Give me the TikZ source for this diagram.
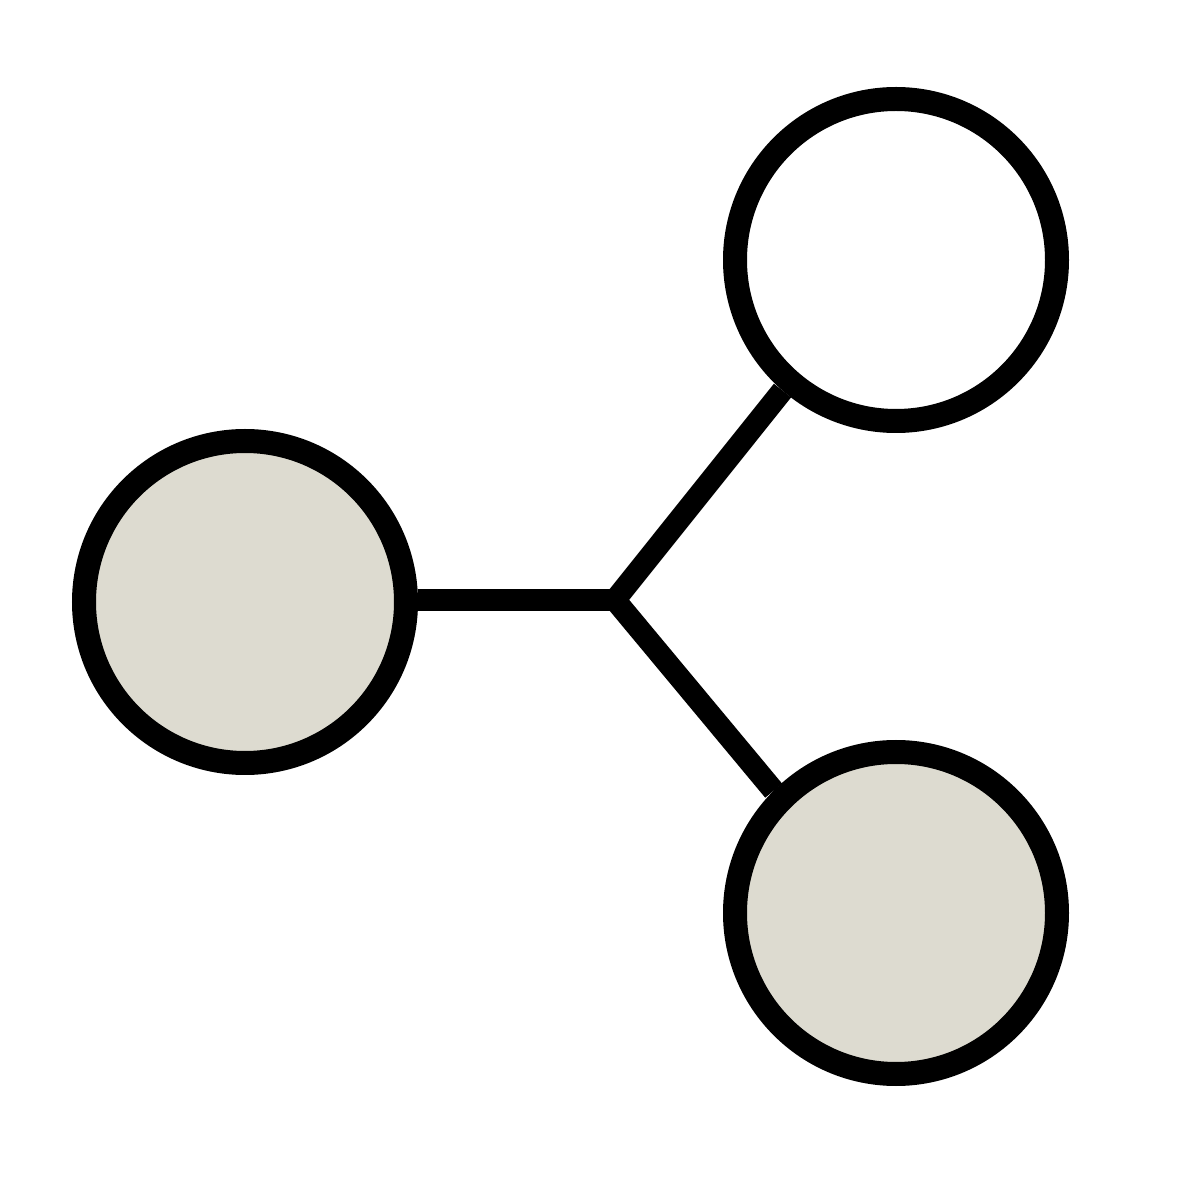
\documentclass[tikz,border=0pt]{standalone}
\usetikzlibrary{positioning}
\definecolor{blobgrey}{RGB}{221,219,208}

\tikzset{
	blob/.style={circle,draw=black,line width=0.24cm,minimum size=3.22cm,inner sep=0pt},
	link/.style={line width=0.22cm,draw=black}
}

\begin{document}
\begin{tikzpicture}
\useasboundingbox (0,0) rectangle (12,12);
% the three circles
\node[blob,fill=blobgrey] (left) at (2.45,5.98) {};
\node[blob,fill=white] (top) at (8.96,9.40) {};
\node[blob,fill=blobgrey] (bottom) at (8.96,2.87) {};
% where the links meet
\coordinate (hub) at (6.15,6.00);
\draw[link] (hub -| left.east) -- (hub);
\draw[link,line join=miter] (top.229) -- (hub) -- (bottom.135);
\end{tikzpicture}
\end{document}
